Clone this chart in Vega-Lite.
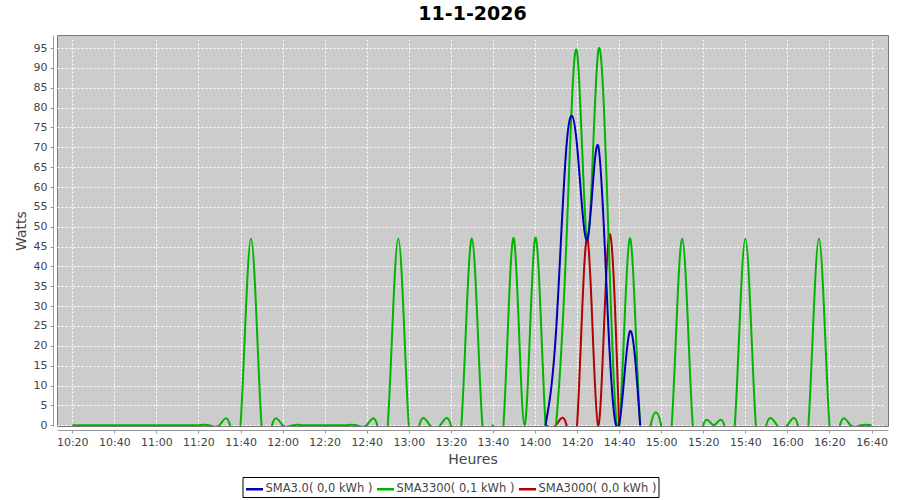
{
  "$schema": "https://vega.github.io/schema/vega-lite/v6.json",
  "autosize": "none",
  "width": 831,
  "height": 391,
  "padding": {"left": 57, "top": 35, "right": 12, "bottom": 74},
  "background": "white",
  "title": {"text": "11-1-2026", "font": "DejaVu Sans", "fontSize": 19, "fontWeight": "bold", "color": "black", "offset": 11},
  "config": {
    "view": {"fill": "#cccccc", "stroke": "#777777", "strokeWidth": 1},
    "axis": {
      "labelFont": "DejaVu Sans", "labelFontSize": 11, "labelColor": "#444444",
      "titleFont": "DejaVu Sans", "titleFontSize": 14, "titleFontWeight": "normal", "titleColor": "#444444",
      "domainColor": "#999999", "tickColor": "#999999", "tickSize": 3, "labelPadding": 3,
      "gridColor": "white", "gridDash": [2, 2], "gridWidth": 1, "gridOpacity": 1, "offset": 4
    },
    "legend": {
      "labelFont": "DejaVu Sans", "labelFontSize": 11.5, "labelColor": "#444444",
      "strokeColor": "black", "fillColor": "white", "padding": 2,
      "symbolType": "stroke", "symbolSize": 289, "symbolStrokeWidth": 2.5,
      "labelOffset": 1, "columnPadding": -1
    }
  },
  "data": {"values": [
    {"t": "2026-01-11T10:20:00", "serie": "SMA3300( 0,1 kWh )", "w": 0},
    {"t": "2026-01-11T10:25:00", "serie": "SMA3300( 0,1 kWh )", "w": 0},
    {"t": "2026-01-11T10:30:00", "serie": "SMA3300( 0,1 kWh )", "w": 0},
    {"t": "2026-01-11T10:35:00", "serie": "SMA3300( 0,1 kWh )", "w": 0},
    {"t": "2026-01-11T10:40:00", "serie": "SMA3300( 0,1 kWh )", "w": 0},
    {"t": "2026-01-11T10:45:00", "serie": "SMA3300( 0,1 kWh )", "w": 0},
    {"t": "2026-01-11T10:50:00", "serie": "SMA3300( 0,1 kWh )", "w": 0},
    {"t": "2026-01-11T10:55:00", "serie": "SMA3300( 0,1 kWh )", "w": 0},
    {"t": "2026-01-11T11:00:00", "serie": "SMA3300( 0,1 kWh )", "w": 0},
    {"t": "2026-01-11T11:05:00", "serie": "SMA3300( 0,1 kWh )", "w": 0},
    {"t": "2026-01-11T11:10:00", "serie": "SMA3300( 0,1 kWh )", "w": 0},
    {"t": "2026-01-11T11:15:00", "serie": "SMA3300( 0,1 kWh )", "w": 0},
    {"t": "2026-01-11T11:20:00", "serie": "SMA3300( 0,1 kWh )", "w": 0},
    {"t": "2026-01-11T11:25:00", "serie": "SMA3300( 0,1 kWh )", "w": 0},
    {"t": "2026-01-11T11:30:00", "serie": "SMA3300( 0,1 kWh )", "w": 0},
    {"t": "2026-01-11T11:35:00", "serie": "SMA3300( 0,1 kWh )", "w": 0},
    {"t": "2026-01-11T11:40:00", "serie": "SMA3300( 0,1 kWh )", "w": 0},
    {"t": "2026-01-11T11:45:00", "serie": "SMA3300( 0,1 kWh )", "w": 47},
    {"t": "2026-01-11T11:50:00", "serie": "SMA3300( 0,1 kWh )", "w": 0},
    {"t": "2026-01-11T11:55:00", "serie": "SMA3300( 0,1 kWh )", "w": 0},
    {"t": "2026-01-11T12:00:00", "serie": "SMA3300( 0,1 kWh )", "w": 0},
    {"t": "2026-01-11T12:05:00", "serie": "SMA3300( 0,1 kWh )", "w": 0},
    {"t": "2026-01-11T12:10:00", "serie": "SMA3300( 0,1 kWh )", "w": 0},
    {"t": "2026-01-11T12:15:00", "serie": "SMA3300( 0,1 kWh )", "w": 0},
    {"t": "2026-01-11T12:20:00", "serie": "SMA3300( 0,1 kWh )", "w": 0},
    {"t": "2026-01-11T12:25:00", "serie": "SMA3300( 0,1 kWh )", "w": 0},
    {"t": "2026-01-11T12:30:00", "serie": "SMA3300( 0,1 kWh )", "w": 0},
    {"t": "2026-01-11T12:35:00", "serie": "SMA3300( 0,1 kWh )", "w": 0},
    {"t": "2026-01-11T12:40:00", "serie": "SMA3300( 0,1 kWh )", "w": 0},
    {"t": "2026-01-11T12:45:00", "serie": "SMA3300( 0,1 kWh )", "w": 0},
    {"t": "2026-01-11T12:50:00", "serie": "SMA3300( 0,1 kWh )", "w": 0},
    {"t": "2026-01-11T12:55:00", "serie": "SMA3300( 0,1 kWh )", "w": 47},
    {"t": "2026-01-11T13:00:00", "serie": "SMA3300( 0,1 kWh )", "w": 0},
    {"t": "2026-01-11T13:05:00", "serie": "SMA3300( 0,1 kWh )", "w": 0},
    {"t": "2026-01-11T13:10:00", "serie": "SMA3300( 0,1 kWh )", "w": 0},
    {"t": "2026-01-11T13:15:00", "serie": "SMA3300( 0,1 kWh )", "w": 0},
    {"t": "2026-01-11T13:20:00", "serie": "SMA3300( 0,1 kWh )", "w": 0},
    {"t": "2026-01-11T13:25:00", "serie": "SMA3300( 0,1 kWh )", "w": 0},
    {"t": "2026-01-11T13:30:00", "serie": "SMA3300( 0,1 kWh )", "w": 47},
    {"t": "2026-01-11T13:35:00", "serie": "SMA3300( 0,1 kWh )", "w": 0},
    {"t": "2026-01-11T13:40:00", "serie": "SMA3300( 0,1 kWh )", "w": 0},
    {"t": "2026-01-11T13:45:00", "serie": "SMA3300( 0,1 kWh )", "w": 0},
    {"t": "2026-01-11T13:50:00", "serie": "SMA3300( 0,1 kWh )", "w": 47},
    {"t": "2026-01-11T13:55:00", "serie": "SMA3300( 0,1 kWh )", "w": 0},
    {"t": "2026-01-11T14:00:00", "serie": "SMA3300( 0,1 kWh )", "w": 47},
    {"t": "2026-01-11T14:05:00", "serie": "SMA3300( 0,1 kWh )", "w": 0},
    {"t": "2026-01-11T14:10:00", "serie": "SMA3300( 0,1 kWh )", "w": 0},
    {"t": "2026-01-11T14:15:00", "serie": "SMA3300( 0,1 kWh )", "w": 47},
    {"t": "2026-01-11T14:20:00", "serie": "SMA3300( 0,1 kWh )", "w": 94},
    {"t": "2026-01-11T14:25:00", "serie": "SMA3300( 0,1 kWh )", "w": 47},
    {"t": "2026-01-11T14:30:00", "serie": "SMA3300( 0,1 kWh )", "w": 94},
    {"t": "2026-01-11T14:35:00", "serie": "SMA3300( 0,1 kWh )", "w": 47},
    {"t": "2026-01-11T14:40:00", "serie": "SMA3300( 0,1 kWh )", "w": 0},
    {"t": "2026-01-11T14:45:00", "serie": "SMA3300( 0,1 kWh )", "w": 47},
    {"t": "2026-01-11T14:50:00", "serie": "SMA3300( 0,1 kWh )", "w": 0},
    {"t": "2026-01-11T14:55:00", "serie": "SMA3300( 0,1 kWh )", "w": 0},
    {"t": "2026-01-11T15:00:00", "serie": "SMA3300( 0,1 kWh )", "w": 0},
    {"t": "2026-01-11T15:05:00", "serie": "SMA3300( 0,1 kWh )", "w": 0},
    {"t": "2026-01-11T15:10:00", "serie": "SMA3300( 0,1 kWh )", "w": 47},
    {"t": "2026-01-11T15:15:00", "serie": "SMA3300( 0,1 kWh )", "w": 0},
    {"t": "2026-01-11T15:20:00", "serie": "SMA3300( 0,1 kWh )", "w": 0},
    {"t": "2026-01-11T15:25:00", "serie": "SMA3300( 0,1 kWh )", "w": 0},
    {"t": "2026-01-11T15:30:00", "serie": "SMA3300( 0,1 kWh )", "w": 0},
    {"t": "2026-01-11T15:35:00", "serie": "SMA3300( 0,1 kWh )", "w": 0},
    {"t": "2026-01-11T15:40:00", "serie": "SMA3300( 0,1 kWh )", "w": 47},
    {"t": "2026-01-11T15:45:00", "serie": "SMA3300( 0,1 kWh )", "w": 0},
    {"t": "2026-01-11T15:50:00", "serie": "SMA3300( 0,1 kWh )", "w": 0},
    {"t": "2026-01-11T15:55:00", "serie": "SMA3300( 0,1 kWh )", "w": 0},
    {"t": "2026-01-11T16:00:00", "serie": "SMA3300( 0,1 kWh )", "w": 0},
    {"t": "2026-01-11T16:05:00", "serie": "SMA3300( 0,1 kWh )", "w": 0},
    {"t": "2026-01-11T16:10:00", "serie": "SMA3300( 0,1 kWh )", "w": 0},
    {"t": "2026-01-11T16:15:00", "serie": "SMA3300( 0,1 kWh )", "w": 47},
    {"t": "2026-01-11T16:20:00", "serie": "SMA3300( 0,1 kWh )", "w": 0},
    {"t": "2026-01-11T16:25:00", "serie": "SMA3300( 0,1 kWh )", "w": 0},
    {"t": "2026-01-11T16:30:00", "serie": "SMA3300( 0,1 kWh )", "w": 0},
    {"t": "2026-01-11T16:35:00", "serie": "SMA3300( 0,1 kWh )", "w": 0},
    {"t": "2026-01-11T16:40:00", "serie": "SMA3300( 0,1 kWh )", "w": 0},
    {"t": "2026-01-11T14:05:00", "serie": "SMA3.0( 0,0 kWh )", "w": 0},
    {"t": "2026-01-11T14:10:00", "serie": "SMA3.0( 0,0 kWh )", "w": 23.5},
    {"t": "2026-01-11T14:15:00", "serie": "SMA3.0( 0,0 kWh )", "w": 70.5},
    {"t": "2026-01-11T14:20:00", "serie": "SMA3.0( 0,0 kWh )", "w": 70.5},
    {"t": "2026-01-11T14:25:00", "serie": "SMA3.0( 0,0 kWh )", "w": 47},
    {"t": "2026-01-11T14:30:00", "serie": "SMA3.0( 0,0 kWh )", "w": 70.5},
    {"t": "2026-01-11T14:35:00", "serie": "SMA3.0( 0,0 kWh )", "w": 23.5},
    {"t": "2026-01-11T14:40:00", "serie": "SMA3.0( 0,0 kWh )", "w": 0},
    {"t": "2026-01-11T14:45:00", "serie": "SMA3.0( 0,0 kWh )", "w": 23.5},
    {"t": "2026-01-11T14:50:00", "serie": "SMA3.0( 0,0 kWh )", "w": 0},
    {"t": "2026-01-11T14:05:00", "serie": "SMA3000( 0,0 kWh )", "w": 0},
    {"t": "2026-01-11T14:10:00", "serie": "SMA3000( 0,0 kWh )", "w": 0},
    {"t": "2026-01-11T14:15:00", "serie": "SMA3000( 0,0 kWh )", "w": 0},
    {"t": "2026-01-11T14:20:00", "serie": "SMA3000( 0,0 kWh )", "w": 0},
    {"t": "2026-01-11T14:25:00", "serie": "SMA3000( 0,0 kWh )", "w": 47},
    {"t": "2026-01-11T14:30:00", "serie": "SMA3000( 0,0 kWh )", "w": 0},
    {"t": "2026-01-11T14:35:00", "serie": "SMA3000( 0,0 kWh )", "w": 47},
    {"t": "2026-01-11T14:40:00", "serie": "SMA3000( 0,0 kWh )", "w": 0}
  ]},
  "encoding": {
    "x": {
      "field": "t", "type": "temporal",
      "scale": {"domain": [
        {"year": 2026, "month": 1, "date": 11, "hours": 10, "minutes": 12, "seconds": 45},
        {"year": 2026, "month": 1, "date": 11, "hours": 16, "minutes": 47, "seconds": 50}
      ], "nice": false},
      "axis": {"title": "Heures", "format": "%H:%M", "titlePadding": 5, "labelFlush": false,
        "values": [
          {"year": 2026, "month": 1, "date": 11, "hours": 10, "minutes": 20},
          {"year": 2026, "month": 1, "date": 11, "hours": 10, "minutes": 40},
          {"year": 2026, "month": 1, "date": 11, "hours": 11, "minutes": 0},
          {"year": 2026, "month": 1, "date": 11, "hours": 11, "minutes": 20},
          {"year": 2026, "month": 1, "date": 11, "hours": 11, "minutes": 40},
          {"year": 2026, "month": 1, "date": 11, "hours": 12, "minutes": 0},
          {"year": 2026, "month": 1, "date": 11, "hours": 12, "minutes": 20},
          {"year": 2026, "month": 1, "date": 11, "hours": 12, "minutes": 40},
          {"year": 2026, "month": 1, "date": 11, "hours": 13, "minutes": 0},
          {"year": 2026, "month": 1, "date": 11, "hours": 13, "minutes": 20},
          {"year": 2026, "month": 1, "date": 11, "hours": 13, "minutes": 40},
          {"year": 2026, "month": 1, "date": 11, "hours": 14, "minutes": 0},
          {"year": 2026, "month": 1, "date": 11, "hours": 14, "minutes": 20},
          {"year": 2026, "month": 1, "date": 11, "hours": 14, "minutes": 40},
          {"year": 2026, "month": 1, "date": 11, "hours": 15, "minutes": 0},
          {"year": 2026, "month": 1, "date": 11, "hours": 15, "minutes": 20},
          {"year": 2026, "month": 1, "date": 11, "hours": 15, "minutes": 40},
          {"year": 2026, "month": 1, "date": 11, "hours": 16, "minutes": 0},
          {"year": 2026, "month": 1, "date": 11, "hours": 16, "minutes": 20},
          {"year": 2026, "month": 1, "date": 11, "hours": 16, "minutes": 40}
        ]}
    },
    "y": {
      "field": "w", "type": "quantitative",
      "scale": {"domain": [-0.2, 98.3], "nice": false, "zero": false},
      "axis": {"title": "Watts", "values": [0, 5, 10, 15, 20, 25, 30, 35, 40, 45, 50, 55, 60, 65, 70, 75, 80, 85, 90, 95], "titlePadding": 5}
    },
    "color": {
      "field": "serie", "type": "nominal",
      "scale": {"domain": ["SMA3.0( 0,0 kWh )", "SMA3300( 0,1 kWh )", "SMA3000( 0,0 kWh )"], "range": ["#0000b4", "#00b400", "#b40000"]},
      "legend": {"title": null, "orient": "none", "direction": "horizontal", "legendX": 185.5, "legendY": 442}
    }
  },
  "layer": [
    {"transform": [{"filter": "datum.serie === 'SMA3000( 0,0 kWh )'"}], "mark": {"type": "line", "interpolate": "natural", "clip": true, "strokeWidth": 2}},
    {"transform": [{"filter": "datum.serie === 'SMA3300( 0,1 kWh )'"}], "mark": {"type": "line", "interpolate": "natural", "clip": true, "strokeWidth": 2}},
    {"transform": [{"filter": "datum.serie === 'SMA3.0( 0,0 kWh )'"}], "mark": {"type": "line", "interpolate": "natural", "clip": true, "strokeWidth": 2}}
  ]
}
